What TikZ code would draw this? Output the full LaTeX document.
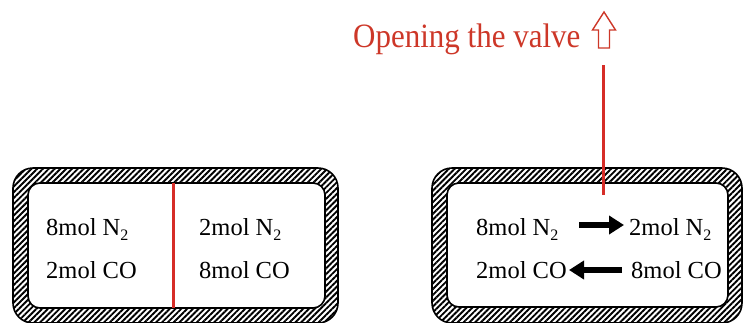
\documentclass[tikz,border=0pt]{standalone}
\usepackage{fontspec}
\setmainfont{Liberation Serif}
\usetikzlibrary{patterns.meta,arrows.meta}
\definecolor{valvered}{RGB}{214,45,40}
\definecolor{titlered}{RGB}{205,55,40}
\newcommand{\lowsub}[1]{\raisebox{-0.22em}{\fontsize{16}{16}\selectfont #1}}
\begin{document}
\begin{tikzpicture}[x=1pt,y=-1pt,
  wall/.style={pattern={Lines[angle=45,distance=4.1pt,line width=1.9pt]}, even odd rule},
  wallline/.style={line width=1.6pt},
  lbl/.style={font=\fontsize{24.5}{29}\selectfont, anchor=base west, inner sep=0pt},
  flow/.style={line width=6pt, -{Triangle[length=15pt,width=18pt]}},
  divider/.style={valvered, line width=3pt},
  hollow/.style={draw=titlered, line width=1.4pt, line join=miter}]
\useasboundingbox (0,0) rectangle (743,322);

% left container
\fill[wall, rounded corners=20pt] (13,168) rectangle (338,323) [rounded corners=12pt] (28,183) rectangle (325,308);
\draw[wallline, rounded corners=20pt] (13,168) rectangle (338,323);
\draw[wallline, rounded corners=12pt] (28,183) rectangle (325,308);
\coordinate (dtop) at (173,183);
\coordinate (dbot) at (173,308);
\draw[divider] (dtop) -- (dbot);

\node[lbl] (L1) at (46,235) {8mol N\lowsub{2}};
\node[lbl] (L2) at (46,278) {2mol CO};
\node[lbl] (L3) at (199,235) {2mol N\lowsub{2}};
\node[lbl] (L4) at (199,278) {8mol CO};

% right container
\fill[wall, rounded corners=20pt] (432,168) rectangle (742,323) [rounded corners=12pt] (447,183) rectangle (728,307);
\draw[wallline, rounded corners=20pt] (432,168) rectangle (742,323);
\draw[wallline, rounded corners=12pt] (447,183) rectangle (728,307);

\node[lbl] (R1) at (476,235) {8mol N\lowsub{2}};
\node[lbl] (R2) at (629,235) {2mol N\lowsub{2}};
\node[lbl] (R3) at (476,278) {2mol CO};
\node[lbl] (R4) at (631,278) {8mol CO};

\coordinate (a1s) at (579,225);
\coordinate (a1e) at (624,225);
\coordinate (a2s) at (622,270);
\coordinate (a2e) at (569,270);
\draw[flow] (a1s) -- (a1e);
\draw[flow] (a2s) -- (a2e);

% valve
\coordinate (vtop) at (603,65);
\coordinate (vbot) at (603,195);
\draw[divider] (vtop) -- (vbot);

\node[titlered, font=\fontsize{31}{36}\selectfont, anchor=base west, inner sep=0pt] (title) at (353,47) {\scalebox{1}[1.1]{Opening the valve}};
\draw[hollow] (604,12) -- (615.5,30) -- (609.5,30) -- (609.5,48) -- (598.5,48) -- (598.5,30) -- (592.5,30) -- cycle;
\end{tikzpicture}
\end{document}
